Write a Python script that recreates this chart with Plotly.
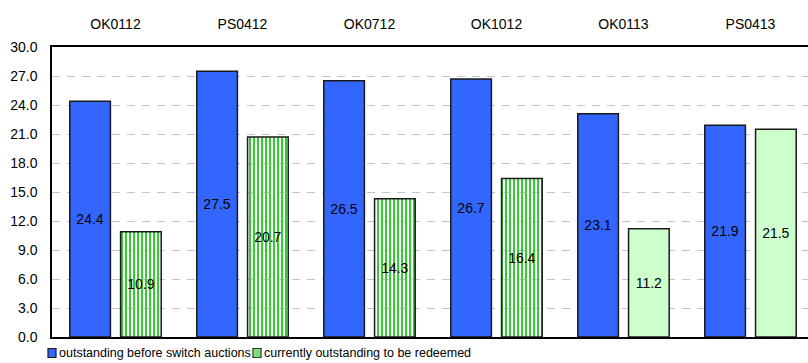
import plotly.graph_objects as go

# Bond series and amounts outstanding
bonds = ["OK0112", "PS0412", "OK0712", "OK1012", "OK0113", "PS0413"]
before_switch = [24.4, 27.5, 26.5, 26.7, 23.1, 21.9]
to_be_redeemed = [10.9, 20.7, 14.3, 16.4, 11.2, 21.5]
y_ticks = [0, 3, 6, 9, 12, 15, 18, 21, 24, 27, 30]
series_names = ["outstanding before switch auctions",
                "currently outstanding to be redeemed"]

BLUE = "#3366FF"
GREEN = "#33CC33"
LIGHT_GREEN = "#CCFFCC"
OUTLINE = "#1a1a1a"
FONT = "Liberation Sans, Arial, sans-serif"

W, H = 808, 363
ML, MR, MT, MB = 52, 0, 47, 26

# the last two bonds are drawn solid light green, the rest striped
striped = [True, True, True, True, False, False]
green_fill = [GREEN if s else LIGHT_GREEN for s in striped]
green_shape = ["|" if s else "" for s in striped]

fig = go.Figure()
fig.add_trace(go.Bar(
    name=series_names[0],
    x=bonds, y=before_switch,
    marker=dict(color=BLUE, line=dict(color=OUTLINE, width=1.5)),
    texttemplate="%{y:.1f}", textposition="inside",
    insidetextanchor="middle", textangle=0,
    textfont=dict(color="black", size=14, family=FONT),
))
fig.add_trace(go.Bar(
    name=series_names[1],
    x=bonds, y=to_be_redeemed,
    marker=dict(
        color=green_fill,
        line=dict(color=OUTLINE, width=1.5),
        pattern=dict(shape=green_shape, bgcolor="white", size=4,
                     solidity=0.5, fillmode="replace"),
    ),
    texttemplate="%{y:.1f}", textposition="inside",
    insidetextanchor="middle", textangle=0,
    textfont=dict(color="black", size=14, family=FONT),
))

# Legend drawn as swatches + labels under the axis, in pixel positions
plot_w, plot_h = W - ML - MR, H - MT - MB


def px_x(px):
    return (px - ML) / plot_w


def px_y(py):
    return (H - MB - py) / plot_h


shapes = []
annotations = []
legend_row = 353
swatch_left = [48, 253]
for i, left in enumerate(swatch_left):
    x0, x1 = px_x(left), px_x(left + 8)
    y0, y1 = px_y(legend_row + 4.5), px_y(legend_row - 4.5)
    fill = BLUE if i == 0 else "white"
    shapes.append(dict(type="rect", xref="paper", yref="paper",
                       x0=x0, x1=x1, y0=y0, y1=y1, fillcolor=fill,
                       line=dict(color=OUTLINE, width=1.2), layer="above"))
    if i == 1:
        for sx in (left + 2, left + 4, left + 6):
            shapes.append(dict(type="line", xref="paper", yref="paper",
                               x0=px_x(sx), x1=px_x(sx), y0=y0, y1=y1,
                               line=dict(color=GREEN, width=1.3),
                               layer="above"))
    annotations.append(dict(
        text=series_names[i], xref="paper", yref="paper",
        x=px_x(left + 9), y=px_y(legend_row), xanchor="left",
        yanchor="middle", showarrow=False,
        font=dict(size=12.5, family=FONT, color="black"),
    ))

fig.update_layout(
    width=W, height=H,
    margin=dict(l=ML, r=MR, t=MT, b=MB, autoexpand=False),
    paper_bgcolor="white", plot_bgcolor="white",
    barmode="group", bargap=0.2, bargroupgap=0.2,
    font=dict(family=FONT, size=14, color="black"),
    showlegend=False,
    shapes=shapes, annotations=annotations,
    xaxis=dict(
        side="top", type="category",
        range=[-0.5, 5.453],
        showline=True, linecolor="black", linewidth=2, mirror=True,
        showgrid=False, ticks="", ticklabelstandoff=10,
        tickfont=dict(size=14, family=FONT),
    ),
    yaxis=dict(
        range=[0, 30], tickvals=y_ticks, tickformat=".1f",
        showline=True, linecolor="black", linewidth=1.5,
        showgrid=True, gridcolor="#C4C4C4", gridwidth=1,
        griddash="8px,7px", zeroline=False,
        ticks="", ticklabelstandoff=10,
        tickfont=dict(size=14, family=FONT),
    ),
)

fig.write_html("out.html")
